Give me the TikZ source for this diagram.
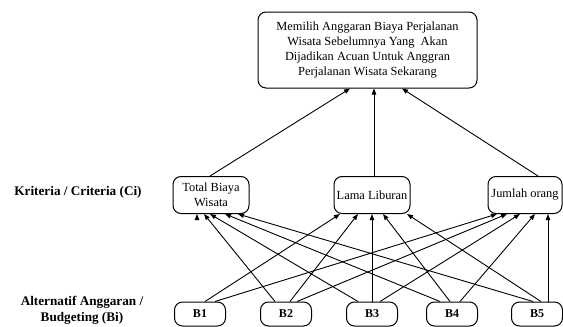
\documentclass[tikz,border=0pt]{standalone}
\usepackage{fontspec}
\setmainfont{Liberation Serif}
\usetikzlibrary{arrows.meta,calc}
\begin{document}
\begin{tikzpicture}[x=1pt,y=-1pt,
  box/.style={draw,line width=1pt,rounded corners=8pt,align=center,inner sep=0pt,font=\fontsize{12.4}{15.3}\selectfont},
  bbox/.style={draw,line width=1pt,rounded corners=8pt,inner sep=0pt,minimum width=51pt,minimum height=24pt,font=\fontsize{12}{13}\selectfont\bfseries},
  lbl/.style={align=center,font=\fontsize{13.2}{16}\selectfont\bfseries},
  arr/.style={line width=0.9pt,-{Triangle[length=6pt,width=4.5pt]}}]
\useasboundingbox (0,0) rectangle (563,327);
\node[box,minimum width=219pt,minimum height=76pt] (top) at (367.5,50) {Memilih Anggaran Biaya Perjalanan\\Wisata Sebelumnya Yang\ \ Akan\\Dijadikan Acuan Untuk Anggran\\Perjalanan Wisata Sekarang};
\node[box,minimum width=76pt,minimum height=37pt] (c1) at (211,195) {Total Biaya\\Wisata};
\node[box,minimum width=76pt,minimum height=37pt] (c2) at (372,195) {Lama Liburan};
\node[box,minimum width=74pt,minimum height=37pt] (c3) at (525,195) {Jumlah orang};
\node[bbox] (b1) at (200,314) {B1};
\node[bbox] (b2) at (286,314) {B2};
\node[bbox] (b3) at (372,314) {B3};
\node[bbox] (b4) at (452,314) {B4};
\node[bbox] (b5) at (537,314) {B5};
\node[lbl] (lc) at (78,192) {Kriteria / Criteria (Ci)};
\node[lbl] (lb) at (82,310) {Alternatif Anggaran /\\Budgeting (Bi)};
% criteria to goal
\draw[arr] ($(c1.north)+(-1,0)$) -- ($(top.south)+(-17.5,0)$);
\draw[arr] ($(c2.north)+(2,0)$) -- ($(top.south)+(6.5,0)$);
\draw[arr] ($(c3.north)+(13,0)$) -- ($(top.south)+(34.5,0)$);
% alternatives to criteria
\draw[arr] ($(c1.south)+(-14,5)$) -- ($(c1.south)+(-14,0)$);
\draw[arr] ($(b1.north)+(5,0)$) -- ($(c2.south)+(-32,0)$);
\draw[arr] ($(b1.north)+(15,0)$) -- ($(c3.south)+(-28,0)$);
\draw[arr] ($(b2.north)+(-11,0)$) -- ($(c1.south)+(-7,0)$);
\draw[arr] ($(b2.north)+(4,0)$) -- ($(c2.south)+(-14,0)$);
\draw[arr] ($(b2.north)+(11,0)$) -- ($(c3.south)+(-18,0)$);
\draw[arr] ($(b3.north)+(-14,0)$) -- ($(c1.south)+(-1,0)$);
\draw[arr] ($(b3.north)+(0,0)$) -- ($(c2.south)+(0,0)$);
\draw[arr] ($(b3.north)+(8,0)$) -- ($(c3.south)+(-5,0)$);
\draw[arr] ($(b4.north)+(-12,0)$) -- ($(c1.south)+(14,0)$);
\draw[arr] ($(b4.north)+(-2,0)$) -- ($(c2.south)+(11,0)$);
\draw[arr] ($(b4.north)+(8,0)$) -- ($(c3.south)+(10,0)$);
\draw[arr] ($(b5.north)+(-4,0)$) -- ($(c1.south)+(27,0)$);
\draw[arr] ($(b5.north)+(4,0)$) -- ($(c2.south)+(35,0)$);
\draw[arr] ($(b5.north)+(11,0)$) -- ($(c3.south)+(23,0)$);
\end{tikzpicture}
\end{document}
